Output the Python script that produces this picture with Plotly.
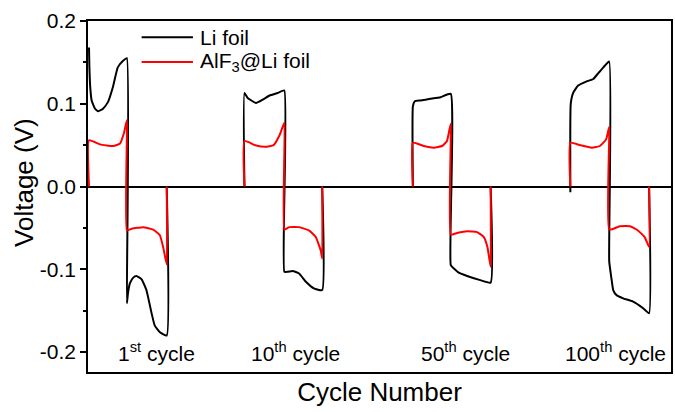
import plotly.graph_objects as go

# Galvanostatic cycling voltage profiles of symmetric cells (selected cycles)
cycle_labels = ["1<sup>st</sup> cycle", "10<sup>th</sup> cycle", "50<sup>th</sup> cycle", "100<sup>th</sup> cycle"]
cycle_start = [0.025, 3.925, 8.15, 12.1]        # time at which each shown cycle begins
charge_dur = [0.95, 1.0, 0.95, 0.975]           # duration of the positive half-cycle
discharge_dur = [1.0, 0.95, 1.0, 1.0]           # duration of the negative half-cycle
label_x = [1.725, 5.2, 9.475, 13.225]

series_names = ["Li foil", "AlF<sub>3</sub>@Li foil"]
series_colors = ["black", "#ff0000"]

# Bare Li foil: (local time, voltage) — local time 0..1 positive half, 1..2 negative half
li_t = [
    [0, 0.01, 0.03, 0.07, 0.16, 0.245, 0.37, 0.5, 0.63, 0.76, 0.9, 1.0,
     1.0, 1.03, 1.075, 1.16, 1.24, 1.37, 1.49, 1.62, 1.7, 1.83, 2.0, 2.0],
    [0, 0, 0.08, 0.29, 0.46, 0.63, 0.83, 1.0,
     1.0, 1.09, 1.22, 1.39, 1.57, 1.78, 2.0, 2.0],
    [0, 0, 0.05, 0.2, 0.46, 0.73, 1.0,
     1.0, 1.08, 1.2, 1.41, 1.74, 2.0, 2.0],
    [0, 0.01, 0.07, 0.2, 0.42, 0.59, 0.72, 0.85, 1.0,
     1.0, 1.05, 1.1, 1.18, 1.35, 1.6, 1.85, 2.0, 2.0],
]
li_v = [
    [0.168, 0.145, 0.122, 0.104, 0.094, 0.091, 0.094, 0.102, 0.12, 0.144, 0.152, 0.155,
     -0.141, -0.128, -0.117, -0.11, -0.108, -0.112, -0.125, -0.153, -0.168, -0.176, -0.18, 0.0],
    [0.0, 0.113, 0.107, 0.101, 0.105, 0.11, 0.113, 0.116,
     -0.103, -0.103, -0.102, -0.105, -0.115, -0.123, -0.125, 0.0],
    [0.0, 0.097, 0.103, 0.104, 0.106, 0.108, 0.112,
     -0.095, -0.099, -0.104, -0.108, -0.113, -0.116, 0.0],
    [-0.007, 0.1, 0.113, 0.122, 0.127, 0.13, 0.137, 0.144, 0.151,
     -0.09, -0.109, -0.125, -0.131, -0.135, -0.139, -0.147, -0.153, 0.0],
]

# AlF3-coated Li foil
alf_t = [
    [0, 0, 0.29, 0.64, 0.82, 0.92, 1.0,
     1.0, 1.12, 1.41, 1.66, 1.83, 1.91, 2.0, 2.0],
    [0, 0, 0.27, 0.52, 0.73, 0.88, 1.0,
     1.0, 1.13, 1.39, 1.65, 1.83, 1.96, 2.0, 2.0],
    [0, 0, 0.29, 0.55, 0.77, 0.9, 1.0,
     1.0, 1.16, 1.41, 1.66, 1.83, 1.92, 2.0, 2.0],
    [0, 0, 0.25, 0.55, 0.76, 0.92, 1.0,
     1.0, 1.27, 1.52, 1.72, 1.89, 2.0, 2.0],
]
alf_v = [
    [0.0, 0.056, 0.051, 0.049, 0.052, 0.064, 0.08,
     -0.053, -0.051, -0.049, -0.052, -0.059, -0.073, -0.094, 0.0],
    [0.0, 0.055, 0.05, 0.048, 0.05, 0.062, 0.077,
     -0.052, -0.049, -0.049, -0.053, -0.061, -0.077, -0.087, 0.0],
    [0.0, 0.053, 0.049, 0.047, 0.049, 0.055, 0.076,
     -0.058, -0.056, -0.054, -0.055, -0.061, -0.073, -0.097, 0.0],
    [0.0, 0.053, 0.05, 0.047, 0.049, 0.057, 0.072,
     -0.052, -0.048, -0.048, -0.053, -0.061, -0.073, 0.0],
]

y_ticks = [-0.2, -0.1, 0.0, 0.1, 0.2]
y_tick_text = ["-0.2", "-0.1", "0.0", "0.1", "0.2"]
y_minor = [-0.15, -0.05, 0.05, 0.15]

FONT = "Liberation Sans, Arial, sans-serif"


def to_time(i, t):
    """Map local half-cycle time onto the shared time axis."""
    if t <= 1:
        return cycle_start[i] + t * charge_dur[i]
    return cycle_start[i] + charge_dur[i] + (t - 1) * discharge_dur[i]


def build(ts, vs):
    xs, ys = [], []
    for i, (tt, vv) in enumerate(zip(ts, vs)):
        xs += [to_time(i, t) for t in tt] + [None]
        ys += list(vv) + [None]
    return xs, ys


fig = go.Figure()
for (ts, vs), name, color in zip([(li_t, li_v), (alf_t, alf_v)], series_names, series_colors):
    xs, ys = build(ts, vs)
    fig.add_trace(go.Scatter(x=xs, y=ys, mode="lines", name=name, showlegend=False,
                             line=dict(color=color, width=2, shape="spline", smoothing=0.4)))

# Legend drawn as line samples with labels in the upper-left corner of the plot
legend_y = [0.954, 0.883]
for ly, name, color in zip(legend_y, series_names, series_colors):
    fig.add_shape(type="line", xref="paper", yref="paper", x0=0.092, x1=0.18, y0=ly, y1=ly,
                  line=dict(color=color, width=2))
    fig.add_annotation(xref="paper", yref="paper", x=0.188, y=ly, text=name, showarrow=False,
                       xanchor="left", yanchor="middle", font=dict(size=21, color="black"))

for xl, txt in zip(label_x, cycle_labels):
    fig.add_annotation(x=xl, y=-0.2, text=txt, showarrow=False, xanchor="center", yanchor="middle",
                       font=dict(size=21, color="black"))

# Y-axis title, placed slightly above the plot's vertical centre
fig.add_annotation(xref="paper", yref="paper", x=-0.109, y=0.54, text="Voltage (V)",
                   textangle=-90, showarrow=False, xanchor="center", yanchor="middle",
                   font=dict(size=26, color="black"))

fig.update_layout(
    width=675, height=412,
    margin=dict(l=88, r=2, t=21, b=40),
    paper_bgcolor="white", plot_bgcolor="white",
    font=dict(family=FONT, color="black", size=21),
    showlegend=False,
    xaxis=dict(range=[0, 14.625], showticklabels=False, ticks="", showgrid=False, zeroline=False,
               showline=True, mirror=True, linecolor="black", linewidth=1.5,
               title=dict(text="Cycle Number", font=dict(size=26), standoff=10)),
    yaxis=dict(range=[-0.224, 0.2], tickvals=y_ticks, ticktext=y_tick_text, ticks="outside",
               ticklen=6, tickwidth=1.5, tickcolor="black", tickfont=dict(size=21),
               showgrid=False, zeroline=True, zerolinecolor="black", zerolinewidth=1.5,
               showline=True, mirror=True, linecolor="black", linewidth=1.5,
               minor=dict(tickvals=y_minor, ticks="outside", ticklen=3,
                          tickwidth=1.5, tickcolor="black")),
)

fig.write_html("out.html")
